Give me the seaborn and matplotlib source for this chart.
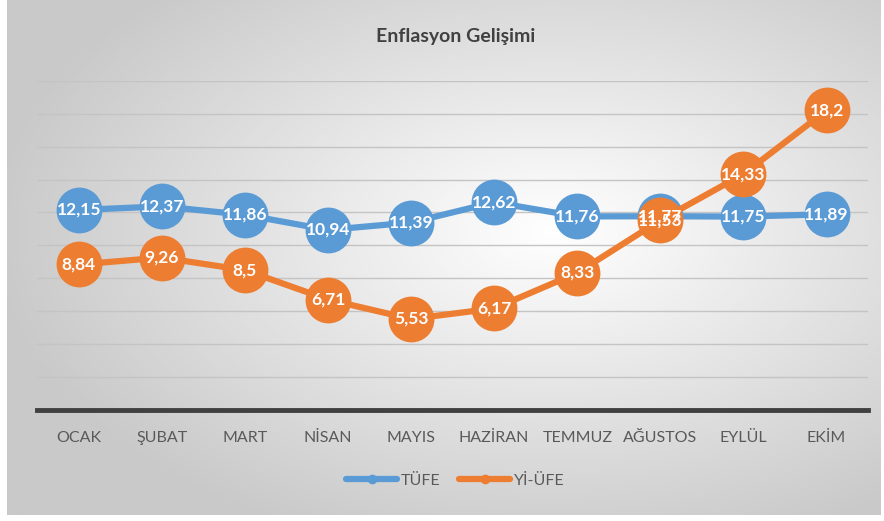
import numpy as np
import pandas as pd
import matplotlib.pyplot as plt
import seaborn as sns
from matplotlib.lines import Line2D

aylar = ['OCAK', 'ŞUBAT', 'MART', 'NİSAN', 'MAYIS', 'HAZİRAN', 'TEMMUZ', 'AĞUSTOS', 'EYLÜL', 'EKİM']
tufe = [12.15, 12.37, 11.86, 10.94, 11.39, 12.62, 11.76, 11.77, 11.75, 11.89]
yiufe = [8.84, 9.26, 8.5, 6.71, 5.53, 6.17, 8.33, 11.53, 14.33, 18.2]
seriler = ['TÜFE', 'Yİ-ÜFE']
renkler = ['#5b9bd5', '#ed7d31']

df = pd.DataFrame({
    'ay': aylar * 2,
    'deger': tufe + yiufe,
    'seri': [seriler[0]] * len(aylar) + [seriler[1]] * len(aylar),
})

sns.set_theme(style='white')
plt.rcParams['font.family'] = ['Lato', 'DejaVu Sans']

fig = plt.figure(figsize=(8.84, 5.21), dpi=100)

# radial grey-white background of the chart area
bg = fig.add_axes([0.008, 0.012, 0.988, 0.988], zorder=0)
yy, xx = np.mgrid[-1:1:300j, -1:1:500j]
r = np.sqrt(((xx - 0.25) / 1.3) ** 2 + ((yy + 0.1) / 1.3) ** 2)
bg.imshow(np.clip(r, 0, 1), cmap=plt.matplotlib.colors.LinearSegmentedColormap.from_list(
    'g', ['#ffffff', '#c9c9c9']), aspect='auto', vmin=0, vmax=1, extent=[0, 1, 0, 1])
bg.set_axis_off()

ax = fig.add_axes([0.042, 0.213, 0.940, 0.632], zorder=1)
ax.patch.set_alpha(0)

sns.lineplot(data=df, x='ay', y='deger', hue='seri', palette=renkler, sort=False,
             marker='o', markersize=33, markeredgewidth=0, linewidth=4.5,
             legend=False, ax=ax)

for seri, vals, c in zip(seriler, [tufe, yiufe], renkler):
    for i, v in enumerate(vals):
        ax.text(i, v, f'{v:g}'.replace('.', ','), ha='center', va='center',
                color='white', fontsize=12.5, fontweight='bold', zorder=10)

ax.set_xlim(-0.5, len(aylar) - 0.5)
ax.set_ylim(0, 20)
ax.set_yticks(np.arange(2, 21, 2))
ax.yaxis.grid(True, color='#c4c4c4', linewidth=1)
ax.set_axisbelow(True)
ax.tick_params(axis='y', left=False, labelleft=False)
ax.tick_params(axis='x', bottom=False, labelsize=11.5, labelcolor='#595959', pad=9)
ax.set_xlabel('')
ax.set_ylabel('')
for s in ['top', 'left', 'right']:
    ax.spines[s].set_visible(False)
ax.spines['bottom'].set_color('#404040')
ax.spines['bottom'].set_linewidth(3.5)

fig.text(0.515, 0.930, 'Enflasyon Gelişimi', ha='center', va='center',
         fontsize=14, fontweight='bold', color='#404040')

handles = [Line2D([], [], color=c, linewidth=4.5, marker='o', markersize=7,
                  markeredgewidth=0) for c in renkler]
fig.legend(handles, seriler, loc='center', bbox_to_anchor=(0.515, 0.077), ncol=2,
           frameon=False, fontsize=11.5, labelcolor='#595959', handlelength=3.2,
           handletextpad=0.2, columnspacing=1.2)

fig.savefig('out.png', dpi=100)
